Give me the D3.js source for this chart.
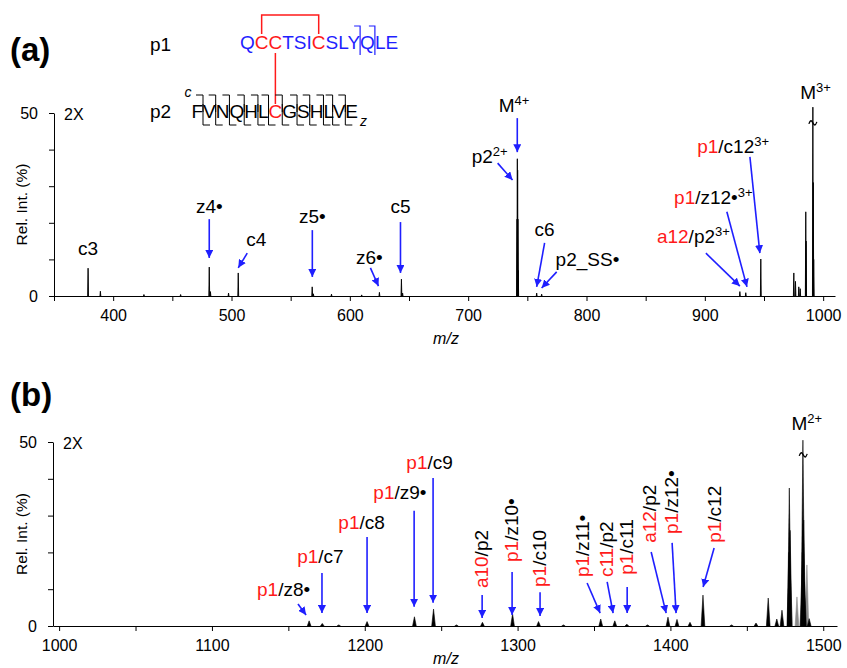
<!DOCTYPE html>
<html lang="en">
<head>
<meta charset="UTF-8">
<title>ETD spectra</title>
<script src="https://d3js.org/d3.v7.min.js"></script>
<style>
  body { margin: 0; background: #fff; }
  svg { font-family: "Liberation Sans", Arial, sans-serif; }
  .lbl { font-size: 19px; }
  .seq { font-size: 19px; }
  .axlbl { font-size: 15.5px; }
</style>
</head>
<body>
<div id="my_dataviz"></div>
<script>

// ---- data: peaks as [m/z, rel. int. (%)] ----
var peaksA = [
  [378.8, 7.6], [389.2, 1.3], [426, 0.4], [457, 0.4], [481.2, 7.9], [482.2, 1.2],
  [497.5, 0.8], [505.7, 6.3], [568.2, 2.5], [569.2, 0.6], [584.5, 0.5], [610, 0.3],
  [625.0, 1.0], [643.6, 4.6], [644.6, 0.8],
  [741.3, 21], [741.55, 37.5], [741.8, 34.4], [742.05, 21], [742.3, 7],
  [757.9, 0.8], [762.1, 0.5], [929.6, 1.2], [934.6, 0.9], [947.3, 10.1],
  [975.2, 6.3], [976.6, 4], [979.4, 2.5], [980.6, 2], [985.3, 23], [985.6, 15],
  [991.3, 51.6], [991.65, 31], [992.0, 10]
];
var greyA = [];

var peaksB = [
  [1163.6, 1.4], [1172.2, 0.7], [1183, 0.3], [1201.5, 1.2], [1232.5, 2.5], [1245, 4.6],
  [1260, 0.3], [1277, 1], [1296.7, 3.3], [1313.7, 1.2], [1330, 0.3], [1354.4, 1.9],
  [1363.6, 1.4], [1371.5, 0.5], [1385, 0.3], [1398.4, 2.4], [1404.3, 1.8], [1412.8, 1],
  [1421.3, 8.4], [1440, 0.3], [1456, 0.8], [1464, 7.6], [1469.6, 1.9], [1473, 4.3],
  [1477.5, 20], [1477.8, 37.5], [1478.3, 26], [1486.3, 20], [1486.7, 50.5],
  [1487.2, 28.8], [1487.7, 12], [1490.8, 2]
];
var greyB = [[1478.6, 14], [1482.8, 7.9], [1485.8, 8], [1489.3, 16.6]];

// axis ticks
var ticksA = [350, 400, 450, 500, 550, 600, 650, 700, 750, 800, 850, 900, 950, 1000];
var ticksB = [1000, 1050, 1100, 1150, 1200, 1250, 1300, 1350, 1400, 1450, 1500];
var ticksY = [0, 10, 20, 30, 40, 50];

// peak annotations: label at [m/z, int], arrow [m/z0, int0, m/z1, int1]
var notesA = [
  {t: "c3", at: [378.8, 11.2], mid: true},
  {t: "z4•", at: [481.2, 22.7], mid: true, arrow: [481.2, 21.0, 481.2, 10.4]},
  {t: "c4", at: [520.9, 13.7], mid: true, arrow: [513.3, 11.7, 505.7, 7.7]},
  {t: "z5•", at: [568.3, 19.9], mid: true, arrow: [568.3, 18.0, 568.3, 5.2]},
  {t: "z6•", at: [616.5, 8.7], mid: true, arrow: [617.4, 7.7, 624.2, 2.7]},
  {t: "c5", at: [642.8, 22.7], mid: true, arrow: [642.8, 20.2, 642.8, 6.3]},
  {t: "M", sup: "4+", at: [738.8, 50.3], mid: true, arrow: [741.5, 48.6, 741.5, 39.3]},
  {t: "p2", sup: "2+", at: [703.0, 36.3], arrow: [724.9, 36.3, 737.5, 31.7]},
  {t: "c6", at: [764.6, 16.4], mid: true, arrow: [764.6, 14.5, 757.9, 2.5]},
  {t: "p2_SS•", at: [773.9, 8.2], arrow: [774.8, 6.6, 762.1, 2.2]},
  {red: "a12", t: "/p2", sup: "3+", at: [859.5, 14.5], arrow: [900.9, 11.7, 929.6, 2.7]},
  {red: "p1", t: "/z12•", sup: "3+", at: [874.0, 25.1], arrow: [918.6, 23.0, 935.6, 2.5]},
  {red: "p1", t: "/c12", sup: "3+", at: [893.5, 39.1], arrow: [938.1, 38.0, 946.5, 11.7]},
  {t: "M", sup: "3+", at: [980.6, 53.8]}
];
var notesB = [
  {red: "p1", t: "/z8•", at: [1129.5, 8.2], arrow: [1156.3, 6.0, 1161.6, 3.0]},
  {red: "p1", t: "/c7", at: [1155.8, 17.1], arrow: [1172, 14.4, 1172, 3.5]},
  {red: "p1", t: "/c8", at: [1182.7, 26.4], arrow: [1201.5, 24.2, 1201.5, 3.5]},
  {red: "p1", t: "/z9•", at: [1205.6, 34.5], arrow: [1232.3, 31.3, 1232.3, 5.2]},
  {red: "p1", t: "/c9", at: [1227.2, 42.7], arrow: [1244.7, 40.2, 1244.7, 6.3]},
  {red: "a10", t: "/p2", at: [1280.9, 10.3], rot: true, arrow: [1276.8, 8.4, 1276.8, 2.2]},
  {red: "p1", t: "/z10•", at: [1300.5, 17.4], rot: true, arrow: [1296.4, 14.7, 1296.4, 3.0]},
  {red: "p1", t: "/c10", at: [1318.8, 10.6], rot: true, arrow: [1314.7, 9.2, 1314.7, 2.7]},
  {red: "p1", t: "/z11•", at: [1347.0, 13.3], rot: true, arrow: [1345.5, 11.7, 1354.0, 3.5]},
  {red: "c11", t: "/p2", at: [1362.7, 13.3], rot: true, arrow: [1358.6, 12.0, 1362.5, 3.5]},
  {red: "p1", t: "/c11", at: [1375.8, 13.9], rot: true, arrow: [1371.7, 10.6, 1371.7, 3.5]},
  {red: "a12", t: "/p2", at: [1390.8, 22.6], rot: true, arrow: [1387.4, 20.1, 1397.2, 3.5]},
  {red: "p1", t: "/z12•", at: [1405.2, 25.0], rot: true, arrow: [1401.1, 22.6, 1403.7, 3.5]},
  {red: "p1", t: "/c12", at: [1433.4, 22.6], rot: true, arrow: [1428.6, 21.2, 1421.4, 10.6]},
  {t: "M", sup: "2+", at: [1479.2, 53.3]}
];

// axis breaks (~) on the clipped precursor peaks
var breaksA = [[991.3, 47.3]];
var breaksB = [[1486.9, 46.5]];

// peptides
var seqP1 = "QCCTSICSLYQLE".split("");
var seqP2 = "FVNQHLCGSHLVE".split("");
var cysP1 = [1, 2, 6];
var cysP2 = [6];
var cutsP1 = [9, 10];
var cutsP2 = [0, 1, 2, 3, 4, 5, 6, 7, 8, 9, 10, 11];

var blue = "#1f1fff", red = "#ff1a1a";

var svg = d3.select("#my_dataviz").append("svg")
    .attr("width", 847)
    .attr("height", 668);
svg.append("rect").attr("width", 847).attr("height", 668).attr("fill", "#fff");

svg.append("defs").append("marker")
    .attr("id", "head")
    .attr("viewBox", "0 0 10 10")
    .attr("refX", 10).attr("refY", 5)
    .attr("markerWidth", 8).attr("markerHeight", 8)
    .attr("markerUnits", "userSpaceOnUse")
    .attr("orient", "auto")
  .append("path")
    .attr("d", "M0,0 L10,5 L0,10 z")
    .attr("fill", blue);

function drawPanel(p) {
  var x = d3.scaleLinear().domain(p.xDomain).range(p.xRange);
  var y = d3.scaleLinear().domain([0, 50]).range(p.yRange);
  var g = svg.append("g");

  var tri = d3.line()
      .x(function(d) { return x(d[0]); })
      .y(function(d) { return y(d[1]); });
  function peak(d) { return tri([[d[0] - p.hw, 0], [d[0], d[1]], [d[0] + p.hw, 0]]); }

  g.selectAll(".grey").data(p.grey).enter().append("path")
      .attr("d", peak)
      .attr("fill", "#8a8a8a").attr("stroke", "#8a8a8a").attr("stroke-width", 0.6);
  g.selectAll(".pk").data(p.peaks).enter().append("path")
      .attr("d", peak)
      .attr("fill", "#000").attr("stroke", "#000").attr("stroke-width", p.sw)
      .attr("stroke-linejoin", "round");

  // break marks
  g.selectAll(".brk").data(p.breaks).enter().append("path")
      .attr("d", function(d) {
        var cx = x(d[0]), cy = y(d[1]);
        return "M" + (cx - 4) + "," + (cy + 1) + " c1.5,-4 2.5,-4 4,-1 s2.5,3 4,-1";
      })
      .attr("fill", "none").attr("stroke", "#000").attr("stroke-width", 1.3);

  // axes
  var xa = g.append("g")
      .attr("transform", "translate(0," + p.yRange[0] + ")")
      .call(d3.axisBottom(x).tickValues(p.ticks).tickSize(5).tickPadding(9).tickSizeOuter(0)
        .tickFormat(function(d) { return d % 100 === 0 ? d : ""; }));
  var ya = g.append("g")
      .attr("transform", "translate(" + p.xRange[0] + ",0)")
      .call(d3.axisLeft(y).tickValues(ticksY).tickSize(5).tickPadding(11).tickSizeOuter(0)
        .tickFormat(function(d) { return d % 50 === 0 ? d : ""; }));
  [xa, ya].forEach(function(a) {
    a.attr("font-size", 16).attr("font-family", null);
    a.selectAll("line,path").attr("stroke", "#000");
  });

  g.append("text")
      .attr("class", "axlbl")
      .attr("text-anchor", "middle")
      .attr("transform", "translate(27," + (p.yRange[0] + p.yRange[1]) / 2 + ") rotate(-90)")
      .text("Rel. Int. (%)");
  g.append("text")
      .attr("x", 446).attr("y", p.mzY)
      .attr("text-anchor", "middle")
      .attr("font-size", 16).attr("font-style", "italic")
      .text("m/z");
  g.append("text")
      .attr("x", p.xRange[0] + 10).attr("y", p.yRange[1] + 7)
      .attr("font-size", 16)
      .text("2X");
  g.append("text")
      .attr("x", 10).attr("y", p.tagY)
      .attr("font-size", 33).attr("font-weight", "bold")
      .text(p.tag);

  // annotations
  p.notes.forEach(function(n) {
    if (n.arrow) {
      g.append("line")
          .attr("x1", x(n.arrow[0])).attr("y1", y(n.arrow[1]))
          .attr("x2", x(n.arrow[2])).attr("y2", y(n.arrow[3]))
          .attr("stroke", blue).attr("stroke-width", 1.6)
          .attr("marker-end", "url(#head)");
    }
    var t = g.append("text").attr("class", "lbl");
    if (n.rot) {
      t.attr("transform", "translate(" + x(n.at[0]) + "," + y(n.at[1]) + ") rotate(-90)");
    } else {
      t.attr("x", x(n.at[0])).attr("y", y(n.at[1]))
       .attr("text-anchor", n.mid ? "middle" : "start");
    }
    if (n.red) t.append("tspan").attr("fill", red).text(n.red);
    t.append("tspan").text(n.t);
    if (n.sup) t.append("tspan").attr("dy", -7).attr("font-size", 13).text(n.sup);
  });
}

drawPanel({
  xDomain: [350, 1010], xRange: [54, 835], yRange: [296, 113],
  peaks: peaksA, grey: greyA, hw: 0.35, sw: 0.9, breaks: breaksA,
  ticks: ticksA, notes: notesA, mzY: 344, tag: "(a)", tagY: 61
});
drawPanel({
  xDomain: [996, 1509], xRange: [53, 837], yRange: [626, 442],
  peaks: peaksB, grey: greyB, hw: 1.2, sw: 0.6, breaks: breaksB,
  ticks: ticksB, notes: notesB, mzY: 664, tag: "(b)", tagY: 406
});

// ---- peptide scheme ----
var pep = svg.append("g");
pep.append("text").attr("class", "lbl").attr("x", 150).attr("y", 51).attr("font-size", 18).text("p1");
pep.append("text").attr("class", "lbl").attr("x", 150).attr("y", 118).attr("font-size", 18).text("p2");

var t1 = pep.append("text").attr("class", "seq").attr("x", 240).attr("y", 49);
seqP1.forEach(function(c, i) {
  t1.append("tspan").attr("fill", cysP1.indexOf(i) >= 0 ? red : blue).text(c);
});
var t2 = pep.append("text").attr("class", "seq").attr("x", 189).attr("y", 118);
seqP2.forEach(function(c, i) {
  t2.append("tspan").attr("fill", cysP2.indexOf(i) >= 0 ? red : "#000").text(c);
});

function ext(t, i) { return t.node().getExtentOfChar(i); }
function mid(t, i) { var e = ext(t, i); return e.x + e.width / 2; }
function gap(t, i) { var e = ext(t, i); return e.x + e.width; }

// align the cross-linked Cys of p2 under p1's second Cys
var shift = mid(t1, cysP1[1]) - mid(t2, cysP2[0]);
t2.attr("x", 189 + shift);

// disulfide bonds
var xa = mid(t1, cysP1[0]), xb = mid(t1, cysP1[2]), xc = mid(t1, cysP1[1]);
pep.append("path")
    .attr("d", "M" + xa + ",34 V15 H" + xb + " V34")
    .attr("fill", "none").attr("stroke", red).attr("stroke-width", 1.5);
pep.append("path")
    .attr("d", "M" + xc + ",53 V104")
    .attr("fill", "none").attr("stroke", red).attr("stroke-width", 1.5);

// fragment marks
cutsP1.forEach(function(i) {
  var gx = gap(t1, i);
  pep.append("path")
      .attr("d", "M" + (gx - 6) + ",26 H" + gx + " V55")
      .attr("fill", "none").attr("stroke", blue).attr("stroke-width", 1.2);
});
cutsP2.forEach(function(i) {
  var gx = gap(t2, i);
  pep.append("path")
      .attr("d", "M" + (gx - 7) + ",95 H" + gx + " V112")
      .attr("fill", "none").attr("stroke", "#000").attr("stroke-width", 1);
  pep.append("path")
      .attr("d", "M" + gx + ",104 V125 H" + (gx + 7))
      .attr("fill", "none").attr("stroke", "#000").attr("stroke-width", 1);
});

var eF = ext(t2, 0), eE = ext(t2, seqP2.length - 1);
pep.append("text").attr("x", eF.x - 7).attr("y", 97)
    .attr("font-size", 14).attr("font-style", "italic").text("c");
pep.append("text").attr("x", eE.x + eE.width + 2).attr("y", 126)
    .attr("font-size", 14).attr("font-style", "italic").text("z");

</script>
</body>
</html>
